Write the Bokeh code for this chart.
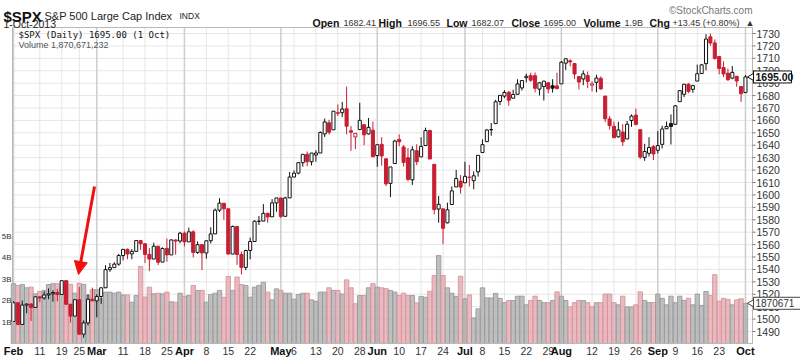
from bokeh.plotting import figure
from bokeh.models import Range1d, Arrow, NormalHead, ColumnDataSource
from bokeh.core.properties import value
from bokeh.embed import file_html
from bokeh.resources import INLINE

# ---------------- data ----------------
trading_days = {
    "Feb": [1, 4, 5, 6, 7, 8, 11, 12, 13, 14, 15, 19, 20, 21, 22, 25, 26, 27, 28],
    "Mar": [1, 4, 5, 6, 7, 8, 11, 12, 13, 14, 15, 18, 19, 20, 21, 22, 25, 26, 27, 28],
    "Apr": [1, 2, 3, 4, 5, 8, 9, 10, 11, 12, 15, 16, 17, 18, 19, 22, 23, 24, 25, 26, 29, 30],
    "May": [1, 2, 3, 6, 7, 8, 9, 10, 13, 14, 15, 16, 17, 20, 21, 22, 23, 24, 28, 29, 30, 31],
    "Jun": [3, 4, 5, 6, 7, 10, 11, 12, 13, 14, 17, 18, 19, 20, 21, 24, 25, 26, 27, 28],
    "Jul": [1, 2, 3, 5, 8, 9, 10, 11, 12, 15, 16, 17, 18, 19, 22, 23, 24, 25, 26, 29, 30, 31],
    "Aug": [1, 2, 5, 6, 7, 8, 9, 12, 13, 14, 15, 16, 19, 20, 21, 22, 23, 26, 27, 28, 29, 30],
    "Sep": [3, 4, 5, 6, 9, 10, 11, 12, 13, 16, 17, 18, 19, 20, 23, 24, 25, 26, 27, 30],
    "Oct": [1],
}

opens = [1498.11, 1513.17, 1495.71, 1511.29, 1512.12, 1509.39, 1517.93, 1517.01, 1519.43, 1520.33,
         1521.38, 1519.79, 1530.94, 1511.95, 1502.42, 1515.60, 1487.85, 1496.94, 1515.99,
         1514.68, 1518.20, 1525.20, 1539.79, 1541.46, 1544.26, 1551.15, 1556.22, 1552.48, 1554.52,
         1563.21, 1560.70, 1552.10, 1548.34, 1558.71, 1545.90, 1556.89, 1551.69, 1563.75, 1562.86,
         1569.18, 1562.17, 1570.25, 1553.69, 1559.98, 1553.26, 1563.11, 1568.61, 1587.73, 1593.30,
         1588.84, 1552.36, 1574.57, 1552.03, 1541.61, 1555.25, 1562.50, 1578.78, 1578.93, 1585.16,
         1582.34, 1593.58,
         1597.55, 1582.77, 1597.60, 1614.40, 1617.55, 1625.95, 1632.69, 1626.69, 1632.10, 1633.75,
         1649.13, 1658.07, 1652.45, 1665.71, 1666.20, 1669.39, 1651.62, 1646.67, 1652.63, 1656.57,
         1649.14, 1652.13,
         1631.71, 1640.73, 1629.05, 1609.29, 1625.27, 1644.67, 1638.64, 1629.94, 1612.15, 1635.52,
         1630.64, 1639.77, 1651.83, 1624.62, 1588.62, 1588.77, 1577.52, 1592.27, 1606.44, 1611.12,
         1609.78, 1614.29, 1611.48, 1618.65, 1634.20, 1642.89, 1652.50, 1657.41, 1675.26, 1679.59,
         1682.70, 1677.91, 1681.05, 1686.15, 1694.41, 1696.06, 1696.06, 1685.21, 1687.31, 1690.32,
         1687.92, 1687.76,
         1689.42, 1706.10, 1708.01, 1705.79, 1695.30, 1693.35, 1696.10, 1688.37, 1690.65, 1693.88,
         1679.61, 1661.22, 1655.25, 1646.81, 1650.66, 1645.03, 1659.92, 1664.29, 1652.54, 1630.25,
         1633.50, 1638.89,
         1635.95, 1640.72, 1653.28, 1657.44, 1656.85, 1675.11, 1681.04, 1689.21, 1685.04, 1691.70,
         1697.73, 1705.74, 1727.34, 1722.44, 1711.44, 1702.60, 1698.02, 1694.05, 1695.52, 1687.26,
         1682.41]

highs = [1514.41, 1513.17, 1514.96, 1512.53, 1512.90, 1518.31, 1518.31, 1522.29, 1524.69, 1523.14,
         1524.24, 1530.94, 1530.94, 1511.95, 1515.64, 1525.84, 1498.99, 1520.08, 1525.34,
         1519.99, 1525.27, 1543.47, 1545.25, 1545.78, 1552.48, 1556.27, 1556.77, 1556.39, 1563.32,
         1563.62, 1560.70, 1557.25, 1561.56, 1558.71, 1557.74, 1564.91, 1563.95, 1564.07, 1570.28,
         1570.57, 1573.66, 1571.47, 1562.60, 1559.98, 1563.07, 1573.89, 1589.07, 1597.35, 1593.30,
         1588.84, 1575.35, 1574.57, 1554.38, 1555.89, 1565.55, 1579.58, 1583.00, 1592.64, 1585.78,
         1596.65, 1597.57,
         1597.55, 1598.60, 1618.46, 1619.77, 1626.03, 1632.78, 1635.01, 1633.70, 1636.00, 1651.10,
         1661.49, 1660.51, 1667.47, 1672.84, 1674.93, 1687.18, 1655.50, 1649.78, 1674.21, 1656.57,
         1661.91, 1658.99,
         1640.42, 1646.53, 1629.31, 1622.56, 1644.40, 1648.69, 1640.13, 1637.71, 1639.25, 1640.80,
         1646.50, 1654.19, 1652.45, 1624.62, 1599.19, 1588.77, 1593.79, 1606.83, 1620.07, 1615.94,
         1626.61, 1624.26, 1618.97, 1632.07, 1644.68, 1653.00, 1657.92, 1676.63, 1680.19, 1684.51,
         1683.73, 1684.75, 1693.12, 1692.09, 1697.61, 1698.38, 1698.66, 1690.94, 1691.85, 1690.92,
         1693.19, 1698.43,
         1707.85, 1709.67, 1709.24, 1705.79, 1695.30, 1700.18, 1699.42, 1691.49, 1696.81, 1695.52,
         1679.61, 1663.60, 1659.18, 1658.92, 1656.99, 1659.55, 1664.85, 1669.51, 1652.54, 1641.18,
         1646.41, 1640.08,
         1651.35, 1655.72, 1659.17, 1664.83, 1672.40, 1684.09, 1689.13, 1689.97, 1688.73, 1704.95,
         1705.52, 1729.44, 1729.86, 1725.23, 1711.44, 1707.63, 1701.71, 1703.85, 1695.52, 1687.26,
         1696.55]

lows = [1498.11, 1495.02, 1495.71, 1504.71, 1498.49, 1509.39, 1513.61, 1515.61, 1515.93, 1514.02,
        1514.14, 1519.79, 1511.41, 1497.29, 1502.42, 1487.85, 1485.01, 1494.88, 1514.46,
        1501.48, 1512.29, 1525.20, 1538.11, 1541.46, 1542.94, 1547.36, 1548.24, 1548.25, 1554.52,
        1555.74, 1545.13, 1538.57, 1548.34, 1543.55, 1545.90, 1546.22, 1551.69, 1551.90, 1561.08,
        1558.47, 1562.17, 1549.80, 1552.52, 1539.50, 1548.63, 1560.92, 1568.61, 1586.17, 1579.97,
        1552.28, 1552.36, 1543.69, 1536.03, 1539.40, 1548.19, 1562.50, 1575.80, 1578.93, 1577.56,
        1582.34, 1586.50,
        1581.28, 1582.77, 1597.60, 1614.21, 1616.64, 1622.70, 1623.09, 1623.71, 1626.74, 1633.75,
        1646.68, 1648.60, 1652.45, 1663.52, 1662.67, 1648.86, 1635.53, 1636.88, 1652.63, 1640.05,
        1648.61, 1630.74,
        1622.72, 1623.62, 1607.09, 1598.23, 1625.27, 1639.26, 1622.92, 1610.92, 1608.07, 1623.96,
        1630.34, 1639.77, 1628.91, 1584.32, 1577.70, 1560.33, 1577.09, 1592.27, 1606.44, 1601.06,
        1609.78, 1606.77, 1604.57, 1614.71, 1634.20, 1642.89, 1647.66, 1657.41, 1672.33, 1677.89,
        1671.84, 1677.91, 1681.05, 1684.08, 1690.67, 1691.13, 1682.57, 1680.07, 1676.03, 1681.86,
        1682.42, 1684.94,
        1689.42, 1700.68, 1703.55, 1693.29, 1684.91, 1688.38, 1686.02, 1683.35, 1682.62, 1684.83,
        1658.59, 1652.61, 1645.84, 1646.08, 1639.43, 1645.03, 1654.81, 1656.02, 1629.05, 1627.47,
        1630.88, 1628.05,
        1633.41, 1637.41, 1653.07, 1640.62, 1656.85, 1675.11, 1678.70, 1681.96, 1682.22, 1691.70,
        1697.73, 1700.35, 1720.20, 1708.89, 1697.10, 1694.90, 1691.88, 1693.11, 1687.11, 1674.99,
        1682.07]

closes = [1513.17, 1495.71, 1511.29, 1512.12, 1509.39, 1517.93, 1517.01, 1519.43, 1520.33, 1521.38,
          1519.79, 1530.94, 1511.95, 1502.42, 1515.60, 1487.85, 1496.94, 1515.99, 1514.68,
          1518.20, 1525.20, 1539.79, 1541.46, 1544.26, 1551.18, 1556.22, 1552.48, 1554.52, 1563.23,
          1560.70, 1552.10, 1548.34, 1558.71, 1545.80, 1556.89, 1551.69, 1563.77, 1562.85, 1569.19,
          1562.17, 1570.25, 1553.69, 1559.98, 1553.28, 1563.07, 1568.61, 1587.73, 1593.37, 1588.85,
          1552.36, 1574.57, 1552.01, 1541.61, 1555.25, 1562.50, 1578.78, 1578.79, 1585.16, 1582.24,
          1593.61, 1597.57,
          1582.70, 1597.59, 1614.42, 1617.50, 1625.96, 1632.69, 1626.67, 1633.70, 1633.77, 1650.34,
          1658.78, 1650.47, 1667.47, 1666.29, 1669.16, 1655.35, 1650.51, 1649.60, 1660.06, 1648.36,
          1654.41, 1630.74,
          1640.42, 1631.38, 1608.90, 1622.56, 1643.38, 1642.81, 1626.13, 1612.52, 1636.36, 1626.73,
          1639.04, 1651.81, 1628.93, 1588.19, 1592.43, 1573.09, 1588.03, 1603.26, 1613.20, 1606.28,
          1614.96, 1614.08, 1615.41, 1631.89, 1640.46, 1652.32, 1652.62, 1675.02, 1680.19, 1682.50,
          1676.26, 1680.91, 1689.37, 1692.09, 1695.53, 1692.39, 1685.94, 1690.25, 1691.65, 1685.33,
          1685.96, 1685.73,
          1706.87, 1709.67, 1707.14, 1697.37, 1690.91, 1697.48, 1691.42, 1689.47, 1694.16, 1685.39,
          1661.32, 1655.83, 1646.06, 1652.35, 1642.80, 1656.96, 1663.50, 1656.78, 1630.48, 1634.96,
          1638.17, 1632.97,
          1639.77, 1653.08, 1655.08, 1655.17, 1671.71, 1683.99, 1689.13, 1683.42, 1687.99, 1697.60,
          1704.76, 1725.52, 1722.34, 1709.91, 1701.84, 1697.42, 1692.77, 1698.67, 1691.75, 1681.55,
          1695.00]

# volume, billions of shares
volumes = [2.78, 2.70, 2.74, 2.59, 2.62, 2.31, 2.42, 2.47, 2.74, 2.78,
           2.78, 2.60, 2.90, 2.75, 2.34, 2.80, 2.75, 2.23, 2.50,
           2.50, 2.08, 2.39, 2.39, 2.34, 2.39, 2.26, 2.26, 1.92, 2.23,
           3.58, 2.16, 2.62, 2.31, 2.34, 2.31, 2.39, 1.94, 1.92, 2.34,
           2.19, 2.23, 2.70, 2.47, 2.47, 1.92, 2.28, 2.34, 2.47, 2.15,
           3.12, 2.47, 3.09, 2.74, 2.70, 2.15, 2.62, 2.70, 2.85, 2.39,
           2.03, 2.54,
           2.47, 2.34, 2.34, 2.06, 2.28, 2.34, 2.34, 2.03, 1.96, 2.39,
           2.39, 2.59, 2.47, 2.47, 2.30, 2.96, 2.59, 1.85, 2.23, 2.23,
           2.59, 2.78,
           2.62, 2.59, 2.55, 2.47, 2.39, 2.23, 2.34, 2.23, 2.23, 1.89,
           2.19, 2.15, 2.43, 3.16, 4.09, 3.16, 2.59, 2.34, 2.19, 3.13,
           2.08, 2.26, 1.19, 1.61, 2.59, 2.12, 2.12, 2.33, 2.10, 1.90,
           2.00, 2.00, 2.20, 2.20, 1.80, 2.00, 2.20, 2.00, 1.90, 1.90,
           2.00, 2.40,
           2.20, 2.00, 1.70, 1.90, 2.00, 2.00, 1.90, 1.70, 1.90, 1.90,
           2.30, 2.30, 1.90, 1.80, 2.20, 1.70, 1.70, 1.80, 2.40, 2.00,
           1.90, 1.90,
           2.30, 2.10, 1.80, 2.20, 1.90, 2.20, 2.00, 2.10, 1.80, 2.30,
           1.77, 2.42, 2.23, 3.20, 1.97, 2.10, 2.05, 1.80, 2.03, 2.08,
           1.87]

week_ticks = [("Feb", 11), ("Feb", 19), ("Feb", 25), ("Mar", 11), ("Mar", 18), ("Mar", 25),
              ("Apr", 8), ("Apr", 15), ("Apr", 22), ("May", 6), ("May", 13), ("May", 20),
              ("May", 28), ("Jun", 10), ("Jun", 17), ("Jun", 24), ("Jul", 8), ("Jul", 15),
              ("Jul", 22), ("Jul", 29), ("Aug", 12), ("Aug", 19), ("Aug", 26), ("Sep", 9),
              ("Sep", 16), ("Sep", 23)]
month_names = ["Feb", "Mar", "Apr", "May", "Jun", "Jul", "Aug", "Sep", "Oct"]
price_ticks = [1490, 1500, 1510, 1520, 1530, 1540, 1550, 1560, 1570, 1580, 1590, 1600, 1610,
               1620, 1630, 1640, 1650, 1660, 1670, 1680, 1690, 1700, 1710, 1720, 1730]
vol_ticks = [1, 2, 3, 4, 5]

# ---------------- derived ----------------
dates = [(m, d) for m in trading_days for d in trading_days[m]]
idx = list(range(len(dates)))
week_idx = [dates.index(t) for t in week_ticks]
week_lbl = [str(d) for _, d in week_ticks]
month_idx = [dates.index((m, trading_days[m][0])) for m in month_names]

RED = "#C81E32"
BLK = "#111111"
prev = [opens[0]] + closes[:-1]
col = [BLK if (i == 0 or closes[i] >= prev[i]) else RED for i in idx]
fill = ["white" if closes[i] >= opens[i] else col[i] for i in idx]
vfill = ["#A9A9A9" if c == BLK else "#E2A4AC" for c in col]
vline = ["#9A9A9A" if c == BLK else "#D8939C" for c in col]

src = ColumnDataSource(dict(
    x=idx, h=highs, l=lows,
    top=[max(a, b) for a, b in zip(opens, closes)],
    bot=[min(a, b) for a, b in zip(opens, closes)],
    col=col, fill=fill, vol=volumes, vfill=vfill, vline=vline))

# layout: page pixel -> data coordinate helpers
X0, DX, Y0, P0, PY, VPX = 13.0, 4.383, 33.0, 1730.0, 1.2417, 21.5
def sx(X): return (X - X0) / DX
def sy(Y): return P0 + (Y0 - Y) / PY
FL, FR, FT, FB = 12, 752, 27, 343          # plot frame in page pixels

W, H = 800, 363
FONT = "Liberation Sans"

p = figure(width=W, height=H, output_backend="svg", toolbar_location=None,
           x_range=Range1d(sx(0), sx(W)), y_range=Range1d(sy(H), sy(0)),
           min_border=0, background_fill_color="white", border_fill_color="white",
           outline_line_color=None)
p.axis.visible = False
p.grid.visible = False
p.extra_y_ranges = {"vol": Range1d(-(H - FB) / VPX, FB / VPX)}

# grid
p.segment(x0=[sx(FL)] * len(price_ticks), x1=[sx(FR)] * len(price_ticks),
          y0=price_ticks, y1=price_ticks, line_color="#E6E6E6", line_width=1)
p.segment(x0=week_idx, x1=week_idx, y0=[sy(FB)] * len(week_idx), y1=[sy(FT)] * len(week_idx),
          line_color="#E6E6E6", line_width=1)
p.segment(x0=month_idx, x1=month_idx, y0=[sy(FB)] * len(month_idx),
          y1=[sy(FT)] * len(month_idx), line_color="#CDCDCD", line_width=1.5)

# volume
p.vbar(x="x", width=1.0, top="vol", bottom=0, source=src, y_range_name="vol",
       fill_color="vfill", fill_alpha=0.75, line_color="vline", line_alpha=0.9, line_width=1)

# candles
p.segment(x0="x", y0="l", x1="x", y1="h", source=src, line_color="col", line_width=1)
p.vbar(x="x", width=0.7, top="top", bottom="bot", source=src,
       fill_color="fill", line_color="col", line_width=1)

# frame outline
p.quad(left=[sx(FL)], right=[sx(FR)], top=[sy(FT)], bottom=[sy(FB)],
       fill_color=None, line_color="#B8B8B8", line_width=1)


def txt(X, Y, s, size="11px", bold=False, color="#111111", font=FONT,
        align="left", baseline="middle"):
    p.text(x=[sx(X)], y=[sy(Y)], text=[s], text_font=value(font), text_font_size=value(size),
           text_font_style="bold" if bold else "normal", text_color=color,
           text_align=align, text_baseline=baseline)


# right price scale
p.segment(x0=[sx(FR)] * len(price_ticks), x1=[sx(FR + 3)] * len(price_ticks),
          y0=price_ticks, y1=price_ticks, line_color="#777777")
p.text(x=[sx(FR + 4)] * len(price_ticks), y=price_ticks, text=[str(t) for t in price_ticks],
       text_font=value(FONT), text_font_size=value("10.5px"), text_color="#333333",
       text_align="left", text_baseline="middle")

# left volume scale (squeezed against the window edge)
p.text(x=[sx(11)] * len(vol_ticks), y=vol_ticks, y_range_name="vol",
       text=[f"{v}B" for v in vol_ticks], text_font=value(FONT), text_font_size=value("8px"),
       text_color="#333333", text_align="right", text_baseline="middle")

# x labels
p.text(x=week_idx, y=[sy(350)] * len(week_idx), text=week_lbl, text_font=value(FONT),
       text_font_size=value("10.5px"), text_color="#333333", text_align="center",
       text_baseline="middle")
p.text(x=month_idx, y=[sy(350)] * len(month_idx), text=month_names, text_font=value(FONT),
       text_font_size=value("11px"), text_font_style="bold", text_color="#111111",
       text_align="center", text_baseline="middle")

# header
txt(3, 16, "$SPX", size="15px", bold=True, baseline="alphabetic")
txt(44, 15, "S&P 500 Large Cap Index", size="11px", baseline="alphabetic", color="#222222")
txt(179, 15, "INDX", size="8.5px", baseline="alphabetic", color="#222222")
txt(3, 23, "1-Oct-2013", size="10.5px", color="#222222")
txt(752, 10, "\u00a9StockCharts.com", size="10px", color="#777777", align="right")

hdr = [(312, "Open", True), (343, "1682.41", False), (378, "High", True), (407, "1696.55", False),
       (446, "Low", True), (471, "1682.07", False), (511, "Close", True), (543, "1695.00", False),
       (583, "Volume", True), (624, "1.9B", False), (649, "Chg", True),
       (672, "+13.45 (+0.80%)", False), (745, "\u25b2", False)]
for X, t, b in hdr:
    txt(X, 22, t, size="10.5px" if b else "9px", bold=b,
        color="#111111" if b else "#333333")

# in-plot legend
txt(18, 34, "$SPX (Daily) 1695.00 (1 Oct)", size="9px", font="DejaVu Sans Mono")
txt(18, 44, "Volume 1,870,671,232", size="9px", color="#555555")

# last-value boxes on the right scale
last_c = closes[-1]
last_v = volumes[-1]
p.quad(left=[sx(753)], right=[sx(791)], top=[last_c + 6 / PY], bottom=[last_c - 6 / PY],
       fill_color="white", line_color="#111111", line_width=1)
p.scatter(x=[sx(751)], y=[last_c], marker="triangle", angle=1.5708, size=7,
          fill_color="white", line_color="#111111")
p.text(x=[sx(755)], y=[last_c], text=[f"{last_c:.2f}"], text_font=value(FONT),
       text_font_size=value("10.5px"), text_font_style="bold", text_color="#111111",
       text_baseline="middle")
p.quad(left=[sx(753)], right=[sx(803)], top=[last_v + 6 / VPX], bottom=[last_v - 6 / VPX],
       y_range_name="vol", fill_color="white", line_color="#444444", line_width=1)
p.scatter(x=[sx(751)], y=[last_v], y_range_name="vol", marker="triangle", angle=1.5708,
          size=7, fill_color="white", line_color="#444444")
p.text(x=[sx(755)], y=[last_v], y_range_name="vol", text=["1870671"], text_font=value(FONT),
       text_font_size=value("10px"), text_color="#333333", text_baseline="middle")

# red arrow
p.add_layout(Arrow(x_start=sx(94), y_start=sy(186), x_end=sx(78), y_end=sy(274),
                   line_color="#EE1111", line_width=3,
                   end=NormalHead(size=13, fill_color="#EE1111", line_color="#EE1111")))

open("out.html", "w").write(file_html(p, INLINE))
